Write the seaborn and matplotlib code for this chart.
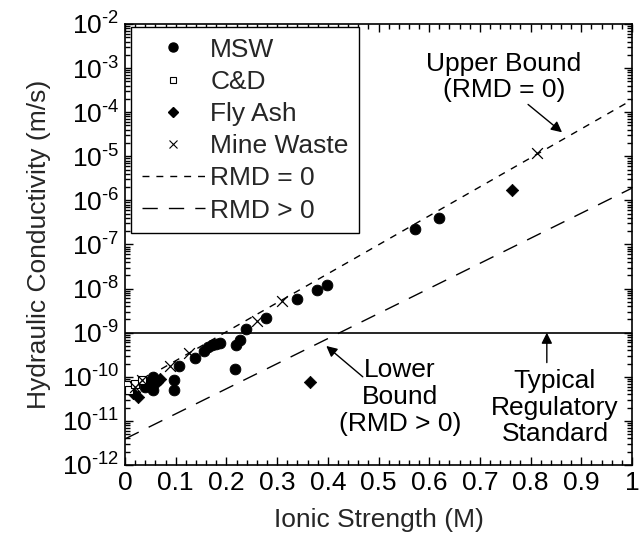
import numpy as np
import pandas as pd
import matplotlib
matplotlib.use("Agg")
import matplotlib.pyplot as plt
import matplotlib.ticker as mticker
from matplotlib.lines import Line2D
import seaborn as sns

# ---- data ----
msw_x = [0.572, 0.62, 0.379, 0.398, 0.339, 0.278, 0.239, 0.227, 0.219, 0.217,
         0.187, 0.179, 0.172, 0.164, 0.156, 0.138, 0.107, 0.097, 0.097, 0.055,
         0.055, 0.039, 0.045]
msw_y = [2.2e-7, 3.9e-7, 9.5e-9, 1.2e-8, 5.9e-9, 2.1e-9, 1.2e-9, 6.9e-10, 5.3e-10,
         1.5e-10, 5.9e-10, 5.6e-10, 5.3e-10, 4.8e-10, 3.9e-10, 2.7e-10, 1.8e-10,
         8.5e-11, 5.1e-11, 1.0e-10, 5.1e-11, 6.0e-11, 7.5e-11]
cd_x = [0.004, 0.008, 0.02, 0.034]
cd_y = [6.6e-11, 5.0e-11, 7.0e-11, 8.6e-11]
fly_x = [0.763, 0.365, 0.016, 0.026, 0.049, 0.063, 0.069]
fly_y = [1.7e-6, 7.5e-11, 4.4e-11, 3.5e-11, 6.6e-11, 7.7e-11, 9.0e-11]
mine_x = [0.813, 0.31, 0.26, 0.126, 0.089, 0.034, 0.02]
mine_y = [1.2e-5, 5.3e-9, 1.8e-9, 3.5e-10, 1.8e-10, 8.6e-11, 6.0e-11]

bound_x = [0.0, 1.0]
upper_y = [5.1e-11, 1.9e-4]   # RMD = 0
lower_y = [3.9e-12, 1.9e-6]   # RMD > 0
standard_k = 1e-9

FS = 19
sns.set_theme(style="ticks")
plt.rcParams["font.family"] = ["Liberation Sans", "DejaVu Sans"]
plt.rcParams["mathtext.fontset"] = "custom"
plt.rcParams["mathtext.rm"] = "Liberation Sans"
plt.rcParams["mathtext.it"] = "Liberation Sans:italic"
plt.rcParams["mathtext.default"] = "regular"

fig = plt.figure(figsize=(6.43, 5.35), dpi=100)
ax = fig.add_axes([125/643, 1-465/535, (632-125)/643, (465-24)/535])

pts = pd.concat([
    pd.DataFrame({"I": msw_x, "k": msw_y, "type": "MSW"}),
    pd.DataFrame({"I": cd_x, "k": cd_y, "type": "C&D"}),
    pd.DataFrame({"I": fly_x, "k": fly_y, "type": "Fly Ash"}),
    pd.DataFrame({"I": mine_x, "k": mine_y, "type": "Mine Waste"}),
])
lines = pd.concat([
    pd.DataFrame({"I": bound_x, "k": upper_y, "b": "RMD = 0"}),
    pd.DataFrame({"I": bound_x, "k": lower_y, "b": "RMD > 0"}),
])

UP_DASH = (0, (5, 5))
LO_DASH = (0, (11, 8))
sns.lineplot(data=lines[lines.b == "RMD = 0"], x="I", y="k", ax=ax, color="black",
             lw=1.0, legend=False, linestyle=UP_DASH)
sns.lineplot(data=lines[lines.b == "RMD > 0"], x="I", y="k", ax=ax, color="black",
             lw=1.0, legend=False, linestyle=LO_DASH)
ax.axhline(standard_k, color="black", lw=1.2)

sns.scatterplot(data=pts[pts.type == "MSW"], x="I", y="k", ax=ax, marker="o", s=60,
                color="black", edgecolor="black", legend=False, zorder=3)
sns.scatterplot(data=pts[pts.type == "Fly Ash"], x="I", y="k", ax=ax, marker="D", s=40,
                color="black", edgecolor="black", legend=False, zorder=3)
sns.scatterplot(data=pts[pts.type == "C&D"], x="I", y="k", ax=ax, marker="s", s=28,
                facecolor="white", edgecolor="black", linewidth=0.8, legend=False, zorder=4)
sns.scatterplot(data=pts[pts.type == "Mine Waste"], x="I", y="k", ax=ax, marker="x", s=60,
                color="black", linewidth=0.9, legend=False, zorder=4)

ax.set_yscale("log")
ax.set_xlim(0, 1)
ax.set_ylim(1e-12, 1e-2)
ax.xaxis.set_major_locator(mticker.MultipleLocator(0.1))
ax.xaxis.set_minor_locator(mticker.MultipleLocator(0.02))
ax.xaxis.set_major_formatter(mticker.FuncFormatter(
    lambda v, p: "0" if abs(v) < 1e-9 else ("1" if abs(v - 1) < 1e-9 else f"{v:.1f}")))
ax.yaxis.set_major_locator(mticker.LogLocator(base=10, numticks=20))
ax.yaxis.set_minor_locator(mticker.LogLocator(base=10, subs=np.arange(2, 10), numticks=20))
ax.yaxis.set_minor_formatter(mticker.NullFormatter())
ax.yaxis.set_major_formatter(mticker.FuncFormatter(
    lambda v, p: r"$10^{\text{-}%d}$" % abs(int(round(np.log10(v))))))
ax.tick_params(which="both", direction="in", top=True, right=True, labelsize=FS,
               width=1, colors="black")
ax.tick_params(which="major", length=6, pad=4)
ax.tick_params(which="minor", length=3.5)
for s in ax.spines.values():
    s.set_linewidth(1.2)
    s.set_color("black")

ax.set_xlabel("Ionic Strength (M)", fontsize=FS, labelpad=10)
ax.set_ylabel("Hydraulic Conductivity (m/s)", fontsize=FS, labelpad=8)

handles = [
    Line2D([], [], marker="o", color="black", ls="none", markersize=6.5),
    Line2D([], [], marker="s", markerfacecolor="white", markeredgecolor="black",
           ls="none", markersize=5, markeredgewidth=0.8),
    Line2D([], [], marker="D", color="black", ls="none", markersize=4.8),
    Line2D([], [], marker="x", color="black", ls="none", markersize=6, markeredgewidth=0.8),
    Line2D([], [], color="black", lw=1.0, ls=UP_DASH),
    Line2D([], [], color="black", lw=1.0, ls=LO_DASH),
]
labels = ["MSW", "C&D", "Fly Ash", "Mine Waste", "RMD = 0", "RMD > 0"]
leg = ax.legend(handles, labels, loc="upper left", bbox_to_anchor=(0.012, 0.993),
                fontsize=FS, frameon=True, fancybox=False, edgecolor="black", framealpha=1,
                handlelength=2.4, labelspacing=0.31, borderaxespad=0.0, borderpad=0.4,
                handletextpad=0.2)
leg.get_frame().set_linewidth(1.0)

tk = dict(fontsize=FS, ha="center", va="center", color="black", linespacing=1.15)
arw = dict(arrowstyle="-|>", color="black", lw=1.0, shrinkA=0, shrinkB=0, mutation_scale=16)

ax.text(0.747, 6.3e-4, "Upper Bound\n(RMD = 0)", **tk)
ax.annotate("", xy=(0.862, 3.5e-5), xytext=(0.795, 1.5e-4), arrowprops=arw)

ax.text(0.542, 3.5e-11, "Lower\nBound\n(RMD > 0)", **tk)
ax.annotate("", xy=(0.397, 5.0e-10), xytext=(0.469, 1.0e-10), arrowprops=arw)

ax.text(0.848, 2.0e-11, "Typical\nRegulatory\nStandard", **tk)
ax.annotate("", xy=(0.832, 1e-9), xytext=(0.832, 2.1e-10), arrowprops=arw)

fig.savefig("out.png", dpi=100)
